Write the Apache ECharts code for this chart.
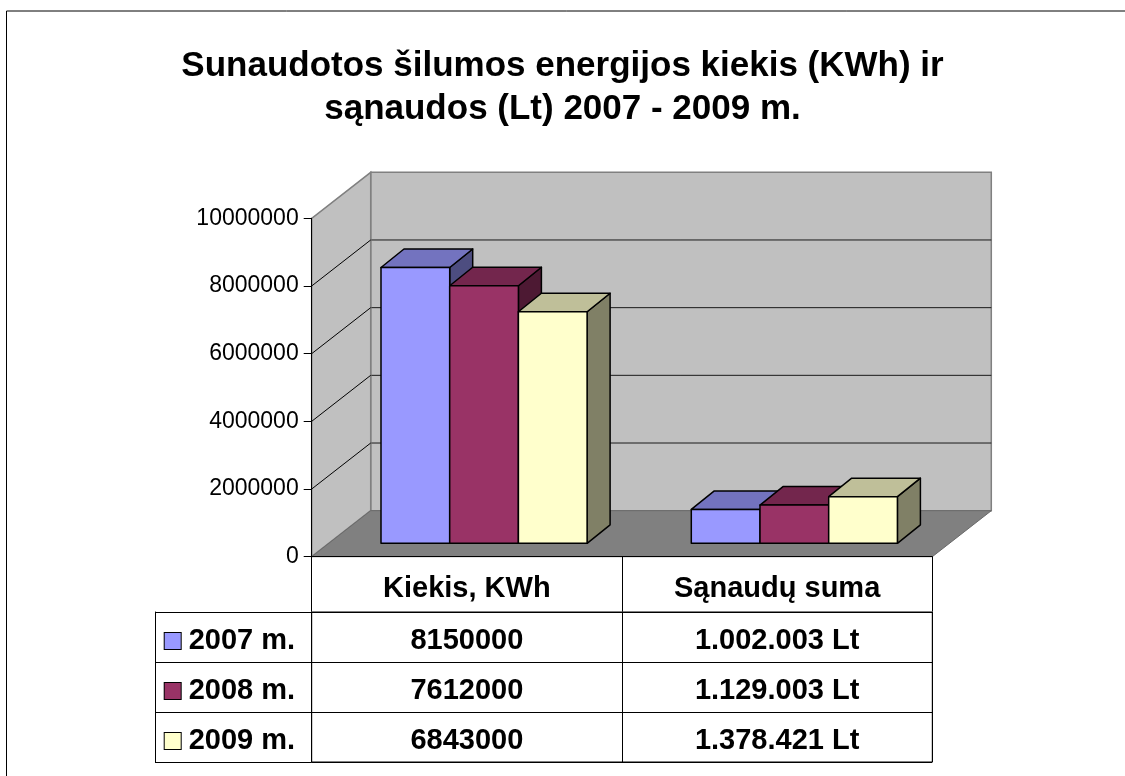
<!DOCTYPE html>
<html>
<head>
<meta charset="utf-8">
<script src="https://cdn.jsdelivr.net/npm/echarts@6/dist/echarts.min.js"></script>
<style>
html,body{margin:0;padding:0;background:#fff;}
#chart{width:1125px;height:776px;}
</style>
</head>
<body>
<div id="chart"></div>
<script>
// ---- data ----
const categories = ['Kiekis, KWh', 'Sąnaudų suma'];
const years = ['2007 m.', '2008 m.', '2009 m.'];
const kiekis = [8150000, 7612000, 6843000];
const sanaudos = [1002003, 1129003, 1378421];
const yTickValues = [0, 2000000, 4000000, 6000000, 8000000, 10000000];
const titleText = 'Sunaudotos šilumos energijos kiekis (KWh) ir\nsąnaudos (Lt) 2007 - 2009 m.';

// ---- styles ----
const FONT = 'Liberation Sans, Arial, sans-serif';
const frontColors = ['#9999FF', '#993366', '#FFFFCC'];
const topColors = ['#7373BF', '#73264D', '#BFBF99'];
const sideColors = ['#4D4D80', '#4D1933', '#808066'];
const DX = 59, DY = -46;          // wall depth
const FX = 17.2, FY = -13.4;      // bar front offset inside depth
const BDX = 23, BDY = -18.5;      // bar depth
const BAR_FRAC = 0.2214;          // bar width / category band

const valuesByYear = years.map((y, i) => [kiekis[i], sanaudos[i]]);

function fmtLt(v) {
  return String(v).replace(/\B(?=(\d{3})+(?!\d))/g, '.') + ' Lt';
}
const cellText = [
  kiekis.map(v => String(v)),
  sanaudos.map(v => fmtLt(v))
];

function renderWalls(params, api) {
  const cs = params.coordSys;
  const x0 = cs.x, x1 = cs.x + cs.width;
  const y0 = api.coord([0, yTickValues[0]])[1];
  const yT = api.coord([0, yTickValues[yTickValues.length - 1]])[1];
  const children = [];
  children.push({type: 'polygon', shape: {points: [[x0 + DX, yT + DY], [x1 + DX, yT + DY], [x1 + DX, y0 + DY], [x0 + DX, y0 + DY]]},
    style: {fill: '#C0C0C0', stroke: '#808080', lineWidth: 1.5}});
  yTickValues.forEach((v, i) => {
    if (i === 0 || i === yTickValues.length - 1) return;
    const y = api.coord([0, v])[1];
    children.push({type: 'line', shape: {x1: x0 + DX, y1: y + DY, x2: x1 + DX, y2: y + DY},
      style: {stroke: '#1a1a1a', lineWidth: 1}});
  });
  children.push({type: 'polygon', shape: {points: [[x0, y0], [x0, yT], [x0 + DX, yT + DY], [x0 + DX, y0 + DY]]},
    style: {fill: '#C0C0C0', stroke: '#808080', lineWidth: 1.5}});
  yTickValues.forEach((v, i) => {
    if (i === 0 || i === yTickValues.length - 1) return;
    const y = api.coord([0, v])[1];
    children.push({type: 'line', shape: {x1: x0, y1: y, x2: x0 + DX, y2: y + DY},
      style: {stroke: '#000', lineWidth: 1}});
  });
  children.push({type: 'polygon', shape: {points: [[x0, y0], [x1, y0], [x1 + DX, y0 + DY], [x0 + DX, y0 + DY]]},
    style: {fill: '#808080', stroke: '#6a6a6a', lineWidth: 1}});
  return {type: 'group', children: children};
}

function makeBarRenderer(si) {
  return function (params, api) {
    const ci = api.value(0), v = api.value(1);
    const base = api.coord([ci, 0]);
    const top = api.coord([ci, v]);
    const band = api.size([1, 0])[0];
    const bw = band * BAR_FRAC;
    const xl = base[0] - 1.5 * bw + si * bw + FX;
    const xr = xl + bw;
    const yb = base[1] + FY;
    const yt = top[1] + FY;
    const st = {stroke: '#000', lineWidth: 1.5, lineJoin: 'round'};
    return {type: 'group', children: [
      {type: 'polygon', z2: si * 3 + 1,
        shape: {points: [[xr, yt], [xr + BDX, yt + BDY], [xr + BDX, yb + BDY], [xr, yb]]},
        style: Object.assign({fill: sideColors[si]}, st)},
      {type: 'polygon', z2: si * 3 + 2,
        shape: {points: [[xl, yt], [xr, yt], [xr + BDX, yt + BDY], [xl + BDX, yt + BDY]]},
        style: Object.assign({fill: topColors[si]}, st)},
      {type: 'polygon', z2: si * 3 + 3,
        shape: {points: [[xl, yt], [xr, yt], [xr, yb], [xl, yb]]},
        style: Object.assign({fill: frontColors[si]}, st)}
    ]};
  };
}

function renderCell(params, api) {
  const c = api.value(0), r = api.value(1);
  const p = api.coord([c, r]);
  return {type: 'text', x: p[0], y: p[1] + 4,
    style: {text: cellText[c][r], align: 'center', verticalAlign: 'middle',
      fontSize: 29, fontWeight: 'bold', fontFamily: FONT, fill: '#000'}};
}

const cellData = [];
years.forEach((y, r) => categories.forEach((c, ci) => cellData.push([ci, r])));

const rich = {
  g: {width: 8},
  t: {fontSize: 29, fontWeight: 'bold', fontFamily: FONT, color: '#000'}
};
frontColors.forEach((col, i) => {
  rich['s' + i] = {width: 16, height: 16, backgroundColor: col, borderColor: '#000', borderWidth: 1};
});

const series = [{
  type: 'custom', xAxisIndex: 0, yAxisIndex: 0, z: 1, silent: true,
  renderItem: renderWalls, data: [[0, 0]], clip: false
}];
years.forEach((y, si) => {
  series.push({
    type: 'custom', name: y, xAxisIndex: 0, yAxisIndex: 0, z: 2,
    renderItem: makeBarRenderer(si), clip: false,
    encode: {x: 0, y: 1},
    data: valuesByYear[si].map((v, ci) => [ci, v])
  });
});
series.push({
  type: 'custom', xAxisIndex: 1, yAxisIndex: 1, z: 3, silent: true,
  renderItem: renderCell, encode: {x: 0, y: 1}, data: cellData, clip: false
});

const chart = echarts.init(document.getElementById('chart'), null, {renderer: 'canvas'});
chart.setOption({
  animation: false,
  backgroundColor: '#fff',
  title: {
    text: titleText, left: 'center', top: 45, padding: 0,
    textStyle: {fontSize: 35, fontWeight: 'bold', fontFamily: FONT, color: '#000', lineHeight: 43}
  },
  graphic: [{type: 'rect', z: -10, silent: true,
    shape: {x: 6.5, y: 11, width: 1300, height: 900},
    style: {fill: 'none', stroke: '#000', lineWidth: 1}}],
  grid: [
    {left: 311.7, right: 192.7, top: 218.3, bottom: 219.3, containLabel: false},
    {left: 311.7, right: 192.7, top: 612, bottom: 14, show: true, borderColor: '#000', borderWidth: 1, backgroundColor: 'transparent'}
  ],
  xAxis: [
    {gridIndex: 0, type: 'category', data: categories, z: 10,
      axisLine: {show: true, lineStyle: {color: '#000', width: 1}},
      axisTick: {show: true, length: 55, interval: 0, lineStyle: {color: '#000', width: 1}},
      axisLabel: {show: true, margin: 32, verticalAlign: 'middle', fontSize: 29, fontWeight: 'bold', fontFamily: FONT, color: '#000'},
      splitLine: {show: false}},
    {gridIndex: 1, type: 'category', data: categories,
      axisLine: {show: false}, axisTick: {show: false}, axisLabel: {show: false},
      splitLine: {show: true, interval: 0, lineStyle: {color: '#000', width: 1}}}
  ],
  yAxis: [
    {gridIndex: 0, type: 'value', min: 0, max: 10000000, interval: 2000000, z: 10,
      axisLine: {show: true, lineStyle: {color: '#000', width: 1}},
      axisTick: {show: true, length: 8, lineStyle: {color: '#000', width: 1}},
      axisLabel: {margin: 13, fontSize: 23, fontFamily: FONT, color: '#000',
        formatter: function (v) { return String(v); }},
      splitLine: {show: false}},
    {gridIndex: 1, type: 'category', data: years, inverse: true, z: 10,
      axisLine: {show: true, lineStyle: {color: '#000', width: 1}},
      axisTick: {show: true, length: 156.7, interval: 0, lineStyle: {color: '#000', width: 1}},
      axisLabel: {align: 'left', margin: 147, interval: 0, padding: [8, 0, 0, 0],
        formatter: function (val, idx) { return '{s' + idx + '|}{g|}{t|' + val + '}'; },
        rich: rich},
      splitLine: {show: true, interval: 0, lineStyle: {color: '#000', width: 1}}},
    {gridIndex: 1, type: 'category', data: years, inverse: true, offset: 156.7, position: 'left',
      axisLine: {show: true, lineStyle: {color: '#000', width: 1}},
      axisTick: {show: false}, axisLabel: {show: false}, splitLine: {show: false}}
  ],
  series: series
});
</script>
</body>
</html>
